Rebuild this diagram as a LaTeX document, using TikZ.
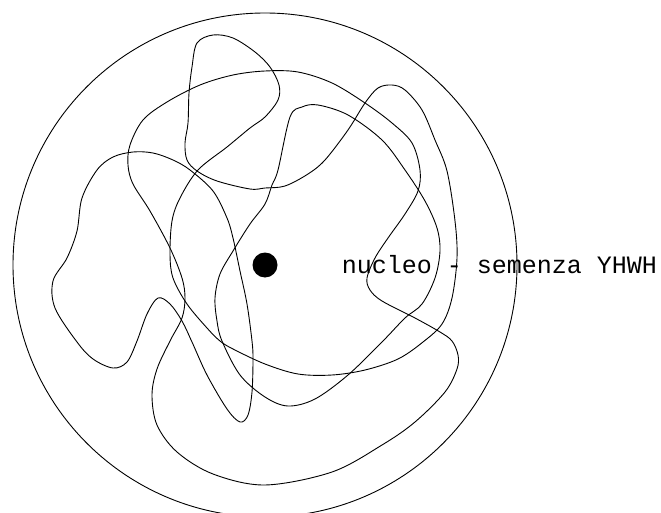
\documentclass[tikz,border=0pt]{standalone}
\usepackage{fontspec}
\newfontfamily\captionfont{Liberation Mono}
\usetikzlibrary{positioning}

\begin{document}
\begin{tikzpicture}[
        x=1pt, y=-1pt,
        shell/.style={draw, line width=0.9pt},
        strand/.style={draw, line width=0.9pt, smooth cycle, tension=0.55},
        seed/.style={circle, fill=black, minimum size=25pt, inner sep=0pt},
        caption/.style={font=\captionfont\fontsize{25}{25}\selectfont, inner sep=0pt}
    ]
        \useasboundingbox (0,0) rectangle (661,513);

        \draw[shell] (265,265) circle[radius=252];

        % outer wave with the right-hand dent
        \draw[strand] plot coordinates {(452,341) (458,355) (457,369) (445,392) (415,422)
            (382,445) (332,472) (265,485) (213,474) (177,452) (157,425) (152,395) (157,369)
            (170,341) (182,318) (185,298) (182,278) (170,248) (150,211) (133,184) (128,165)
            (130,145) (143,120) (167,102) (200,85) (233,75) (265,71) (298,72) (332,83)
            (365,103) (392,123) (412,143) (420,170) (418,191) (405,214) (388,238) (375,258)
            (367,278) (370,290) (382,301) (415,318) (440,332)};

        % wave with the top loop
        \draw[strand] plot coordinates {(213,35) (233,38) (255,52) (270,67) (279,85)
            (278,100) (265,117) (250,128) (227,147) (198,170) (180,198) (172,221) (170,254)
            (173,278) (187,304) (207,328) (220,341) (233,349) (265,364) (298,374) (332,375)
            (365,370) (398,359) (423,342) (442,324) (452,298) (457,258) (455,221) (447,171)
            (435,140) (422,110) (405,90) (392,85) (378,88) (365,103) (348,130) (325,160)
            (308,174) (285,186) (265,188) (250,189) (217,181) (197,171) (187,160) (185,143)
            (188,123) (189,93) (192,67) (197,43)};

        % left lobes
        \draw[strand] plot coordinates {(97,170) (113,157) (133,152) (153,153) (173,160)
            (190,170) (213,191) (227,218) (233,238) (240,271) (247,304) (252,341) (253,359)
            (252,392) (248,415) (240,422) (227,409) (207,375) (192,342) (182,321) (170,304)
            (158,298) (147,314) (137,341) (127,362) (113,368) (93,359) (77,342) (55,308)
            (53,281) (67,258) (77,231) (82,198)};

        % inner oval
        \draw[strand] plot coordinates {(278,170) (272,185) (265,204) (250,224) (233,251)
            (220,274) (215,298) (217,321) (222,341) (240,375) (265,397) (288,406) (315,399)
            (348,375) (382,342) (405,318) (422,304) (435,278) (440,251) (437,228) (425,201)
            (405,170) (382,140) (348,115) (318,105) (302,107) (290,117)};

        \node[seed] (nucleo) at (265,265) {};
        \node[caption, right=64pt of nucleo] (nome) {nucleo - semenza YHWH};
    \end{tikzpicture}
\end{document}
